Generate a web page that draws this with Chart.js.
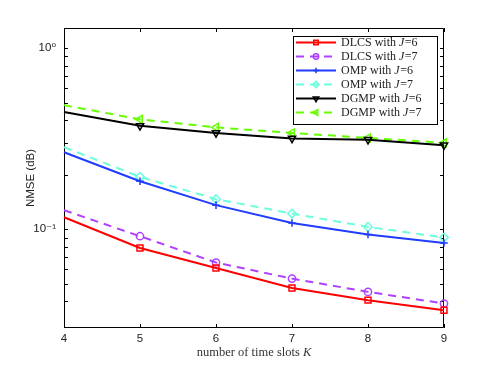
<!DOCTYPE html>
<html><head><meta charset="utf-8">
<script src="https://cdn.jsdelivr.net/npm/chart.js@4/dist/chart.umd.min.js"></script>
<style>html,body{margin:0;padding:0;background:#fff}#wrap{width:491px;height:369px}</style>
</head><body><div id="wrap"><canvas id="c" width="491" height="369"></canvas></div>
<script>
// ---- data ----
const slots = [4, 5, 6, 7, 8, 9];
const dlcsJ6 = [0.1165, 0.0788, 0.0611, 0.0474, 0.0406, 0.0357];
const dlcsJ7 = [0.1273, 0.0915, 0.0655, 0.0534, 0.0451, 0.0389];
const ompJ6  = [0.266, 0.184, 0.1358, 0.1083, 0.0935, 0.0840];
const ompJ7  = [0.284, 0.1945, 0.1465, 0.122, 0.103, 0.090];
const dgmpJ6 = [0.443, 0.372, 0.340, 0.317, 0.312, 0.291];
const dgmpJ7 = [0.484, 0.404, 0.365, 0.340, 0.319, 0.300];
const seriesNames = [['DLCS with ', 'J', '=6'], ['DLCS with ', 'J', '=7'], ['OMP with ', 'J', '=6'],
                     ['OMP with ', 'J', '=7'], ['DGMP with ', 'J', '=6'], ['DGMP with ', 'J', '=7']];
const yTickLabels = {1: '10\u2070', 0.1: '10\u207B\u00B9'};
const xTitle = ['number of time slots ', 'K'];
const yTitle = 'NMSE (dB)';

function pts(arr){ return slots.map((x, i) => ({x: x, y: arr[i]})); }

const styles = [
  {c: '#ff0000', dash: [], ps: 'rect', r: 4.2, rot: 0},
  {c: '#b040ff', dash: [8, 6], ps: 'circle', r: 3.6, rot: 0},
  {c: '#1f3cff', dash: [], ps: 'cross', r: 3.8, rot: 0},
  {c: '#6cffdc', dash: [8, 6], ps: 'rectRot', r: 4.3, rot: 0},
  {c: '#000000', dash: [], ps: 'triangle', r: 4.2, rot: 180},
  {c: '#66ff00', dash: [8, 6], ps: 'triangle', r: 4.6, rot: 270}
];
const allSeries = [dlcsJ6, dlcsJ7, ompJ6, ompJ7, dgmpJ6, dgmpJ7];

const datasets = allSeries.map((s, i) => ({
  label: seriesNames[i].join(''),
  data: pts(s),
  borderColor: styles[i].c,
  backgroundColor: 'rgba(0,0,0,0)',
  borderWidth: 2,
  borderDash: styles[i].dash,
  pointStyle: styles[i].ps,
  pointRadius: (ctx) => ctx.dataIndex === 0 ? 0 : styles[i].r,
  legendRadius: styles[i].r,
  pointRotation: styles[i].rot,
  pointBorderColor: styles[i].c,
  pointBackgroundColor: 'rgba(0,0,0,0)',
  pointBorderWidth: 1.5,
  tension: 0,
  clip: false
}));

function isNice(v){
  const e = Math.floor(Math.log10(v) + 1e-9);
  const m = v / Math.pow(10, e);
  return Math.abs(m - Math.round(m)) < 1e-6;
}

const framePlugin = {
  id: 'frame',
  beforeDatasetsDraw(chart){
    const ctx = chart.ctx, a = chart.chartArea;
    const xs = chart.scales.x, ys = chart.scales.y;
    ctx.save();
    ctx.strokeStyle = '#000';
    ctx.lineWidth = 1;
    ctx.beginPath();
    ctx.rect(a.left + 0.5, a.top + 0.5, a.right - a.left - 1, a.bottom - a.top - 1);
    ctx.stroke();
    ctx.beginPath();
    xs.ticks.forEach(t => {
      const px = Math.round(xs.getPixelForValue(t.value)) + 0.5;
      ctx.moveTo(px, a.bottom); ctx.lineTo(px, a.bottom - 4);
      ctx.moveTo(px, a.top); ctx.lineTo(px, a.top + 4);
    });
    ys.ticks.forEach(t => {
      if (!isNice(t.value)) return;
      const py = Math.round(ys.getPixelForValue(t.value)) + 0.5;
      ctx.moveTo(a.left, py); ctx.lineTo(a.left + 4, py);
      ctx.moveTo(a.right, py); ctx.lineTo(a.right - 4, py);
    });
    ctx.stroke();
    ctx.restore();
  },
  afterDraw(chart){
    const ctx = chart.ctx, a = chart.chartArea;
    ctx.save();
    // x title with italic K
    const fs = '12.5px "Liberation Serif", "Times New Roman", serif';
    const fi = 'italic 12.5px "Liberation Serif", "Times New Roman", serif';
    ctx.fillStyle = '#333';
    ctx.textBaseline = 'middle';
    ctx.font = fs; const w1 = ctx.measureText(xTitle[0]).width;
    ctx.font = fi; const w2 = ctx.measureText(xTitle[1]).width;
    let x0 = (a.left + a.right) / 2 - (w1 + w2) / 2;
    ctx.font = fs; ctx.textAlign = 'left'; ctx.fillText(xTitle[0], x0, 353);
    ctx.font = fi; ctx.fillText(xTitle[1], x0 + w1, 353);

    // legend
    const bx = 293, by = 36, bw = 144, bh = 88;
    ctx.fillStyle = '#fff';
    ctx.fillRect(bx, by, bw, bh);
    ctx.strokeStyle = '#000'; ctx.lineWidth = 1;
    ctx.strokeRect(bx + 0.5, by + 0.5, bw, bh);
    const lf = '12px "Liberation Serif", "Times New Roman", serif';
    const lfi = 'italic 12px "Liberation Serif", "Times New Roman", serif';
    chart.data.datasets.forEach((d, i) => {
      const y = by + 6.5 + 14 * i;
      ctx.save();
      ctx.strokeStyle = d.borderColor; ctx.lineWidth = 2;
      ctx.setLineDash(d.borderDash);
      ctx.beginPath(); ctx.moveTo(296, y); ctx.lineTo(336, y); ctx.stroke();
      ctx.setLineDash([]);
      const opts = {pointStyle: d.pointStyle, radius: d.legendRadius * 0.75, rotation: d.pointRotation, borderWidth: 1.5};
      ctx.strokeStyle = d.borderColor; ctx.fillStyle = 'rgba(0,0,0,0)'; ctx.lineWidth = 1.5;
      if (Chart.helpers && Chart.helpers.drawPoint) {
        Chart.helpers.drawPoint(ctx, opts, 316, y);
      }
      ctx.restore();
      const parts = seriesNames[i];
      let tx = 341;
      ctx.fillStyle = '#222'; ctx.textBaseline = 'middle'; ctx.textAlign = 'left';
      ctx.font = lf; ctx.fillText(parts[0], tx, y + 0.5); tx += ctx.measureText(parts[0]).width;
      ctx.font = lfi; ctx.fillText(parts[1], tx, y + 0.5); tx += ctx.measureText(parts[1]).width + 0.5;
      ctx.font = lf; ctx.fillText(parts[2], tx, y + 0.5);
    });
    ctx.restore();
  }
};

new Chart(document.getElementById('c'), {
  type: 'line',
  data: {datasets: datasets},
  options: {
    responsive: false,
    animation: false,
    devicePixelRatio: 1,
    layout: {padding: {left: 0, right: 47, top: 28, bottom: 0}},
    plugins: {legend: {display: false}, tooltip: {enabled: false}},
    scales: {
      x: {
        type: 'linear', min: 4, max: 9,
        grid: {display: false, drawTicks: false},
        border: {display: false},
        ticks: {stepSize: 1, padding: 4, color: '#222',
                font: {family: '"Liberation Sans", Arial, sans-serif', size: 11.5}},
        afterFit(s){ s.height = 41; }
      },
      y: {
        type: 'logarithmic', min: 0.0285, max: 1.29,
        grid: {display: false, drawTicks: false},
        border: {display: false},
        ticks: {autoSkip: false, padding: 8, color: '#222',
                font: {family: '"Liberation Sans", "DejaVu Sans", Arial, sans-serif', size: 11.5},
                callback: (v) => {
                  for (const k in yTickLabels) { if (Math.abs(v - Number(k)) < 1e-9) return yTickLabels[k]; }
                  return '';
                }},
        title: {display: true, text: yTitle, color: '#222', padding: {top: 24, bottom: 0},
                font: {family: '"Liberation Sans", Arial, sans-serif', size: 11.5}},
        afterFit(s){ s.width = 64; }
      }
    }
  },
  plugins: [framePlugin]
});
</script>
</body></html>
